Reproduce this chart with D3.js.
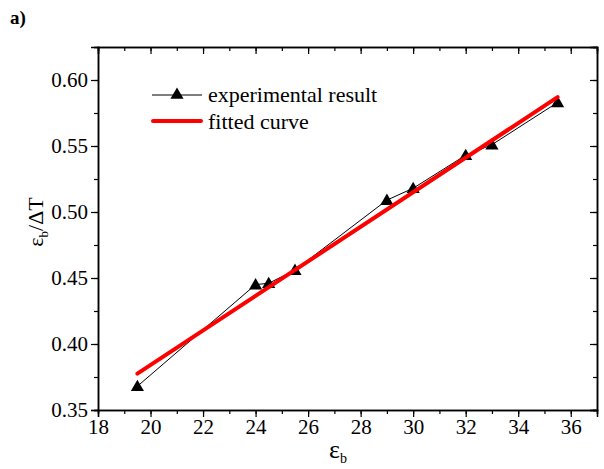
<!DOCTYPE html>
<html lang="en">
<head>
	<meta charset="UTF-8">
	<title>chart</title>
	<script src="https://cdn.jsdelivr.net/npm/d3@7"></script>
	<style>
		body { margin: 0; background: #fff; }
		svg text { font-family: "Times New Roman", "Liberation Serif", Times, "DejaVu Serif", serif; }
	</style>
</head>
<body>
	<script>
	// experimental points
	let epsB = [19.5, 24, 24.5, 25.5, 29, 30, 32, 33, 35.5]
	let ratio = [0.368, 0.445, 0.446, 0.456, 0.509, 0.518, 0.543, 0.551, 0.583]

	// fitted line end points
	let fitX = [19.5, 35.5]
	let fitY = [0.3775, 0.587]

	let xTicks = [18, 20, 22, 24, 26, 28, 30, 32, 34, 36]
	let yTicks = [0.35, 0.40, 0.45, 0.50, 0.55, 0.60]

	let width = 604, height = 469
	let m = { left: 98, right: 7, top: 47, bottom: 59 }

	let svg = d3.select('body').append('svg')
		.attr('width', width)
		.attr('height', height)

	let x = d3.scaleLinear().domain([18, 37]).range([m.left, width - m.right])
	let y = d3.scaleLinear().domain([0.35, 0.625]).range([height - m.bottom, m.top])

	let minorX = d3.range(18, 37.01, 1)
	let minorY = d3.range(0.35, 0.626, 0.025)

	function styleAxis(g) {
		g.attr('font-family', null).attr('font-size', 21)
		g.select('.domain').attr('stroke', '#000').attr('stroke-width', 1.5)
		g.selectAll('.tick line').attr('stroke', '#000').attr('stroke-width', 1.2)
		g.selectAll('text').attr('fill', '#000')
	}

	// minor ticks first
	svg.append('g').attr('transform', `translate(0,${height - m.bottom})`)
		.call(d3.axisBottom(x).tickValues(minorX).tickSize(4).tickFormat('')).call(styleAxis)
	svg.append('g').attr('transform', `translate(0,${m.top})`)
		.call(d3.axisBottom(x).tickValues(minorX).tickSize(4).tickFormat('')).call(styleAxis)
	svg.append('g').attr('transform', `translate(${m.left},0)`)
		.call(d3.axisLeft(y).tickValues(minorY).tickSize(4).tickFormat('')).call(styleAxis)
	svg.append('g').attr('transform', `translate(${width - m.right},0)`)
		.call(d3.axisLeft(y).tickValues(minorY).tickSize(4).tickFormat('')).call(styleAxis)

	// major ticks
	svg.append('g').attr('transform', `translate(0,${height - m.bottom})`)
		.call(d3.axisBottom(x).tickValues(xTicks).tickSize(7).tickPadding(2).tickFormat(d3.format('d')))
		.call(styleAxis)
	svg.append('g').attr('transform', `translate(0,${m.top})`)
		.call(d3.axisBottom(x).tickValues(xTicks).tickSize(7).tickFormat(''))
		.call(styleAxis)
	svg.append('g').attr('transform', `translate(${m.left},0)`)
		.call(d3.axisLeft(y).tickValues(yTicks).tickSize(7).tickPadding(3).tickFormat(d3.format('.2f')))
		.call(styleAxis)
	svg.append('g').attr('transform', `translate(${width - m.right},0)`)
		.call(d3.axisLeft(y).tickValues(yTicks).tickSize(7).tickFormat(''))
		.call(styleAxis)

	let pts = epsB.map((d, i) => [d, ratio[i]])
	let line = d3.line().x(d => x(d[0])).y(d => y(d[1]))

	svg.append('path')
		.datum(pts)
		.attr('d', line)
		.attr('fill', 'none')
		.attr('stroke', '#000')
		.attr('stroke-width', 1)

	let tri = d3.symbol().type(d3.symbolTriangle).size(75)
	svg.selectAll('.pt')
		.data(pts)
		.enter()
		.append('path')
		.attr('class', 'pt')
		.attr('d', tri)
		.attr('transform', d => `translate(${x(d[0])},${y(d[1]) + 1})`)
		.attr('fill', '#000')

	svg.append('path')
		.datum(fitX.map((d, i) => [d, fitY[i]]))
		.attr('d', line)
		.attr('fill', 'none')
		.attr('stroke', '#ff0000')
		.attr('stroke-width', 4)
		.attr('stroke-linecap', 'round')

	// legend
	let lg = svg.append('g').attr('font-size', 22)
	lg.append('line').attr('x1', 152).attr('x2', 202).attr('y1', 95).attr('y2', 95)
		.attr('stroke', '#000').attr('stroke-width', 1)
	lg.append('path').attr('d', tri).attr('transform', 'translate(177,95)').attr('fill', '#000')
	lg.append('text').attr('x', 208).attr('y', 102).text('experimental result')
	lg.append('line').attr('x1', 153).attr('x2', 201).attr('y1', 121).attr('y2', 121)
		.attr('stroke', '#ff0000').attr('stroke-width', 4).attr('stroke-linecap', 'round')
	lg.append('text').attr('x', 208).attr('y', 129).text('fitted curve')

	// axis titles
	let xl = svg.append('text')
		.attr('x', 338).attr('y', 458)
		.attr('text-anchor', 'middle')
		.attr('font-size', 26)
	xl.append('tspan').text('ε')
	xl.append('tspan').attr('dy', 5).attr('font-size', 14).text('b')

	let yl = svg.append('text')
		.attr('transform', 'translate(43,222) rotate(-90)')
		.attr('text-anchor', 'middle')
		.attr('font-size', 22)
	yl.append('tspan').text('ε')
	yl.append('tspan').attr('dy', 5).attr('font-size', 13).text('b')
	yl.append('tspan').attr('dy', -5).text('/ΔT')

	svg.append('text')
		.attr('x', 10).attr('y', 24)
		.attr('font-size', 19)
		.attr('font-weight', 'bold')
		.text('a)')
	</script>
</body>
</html>
